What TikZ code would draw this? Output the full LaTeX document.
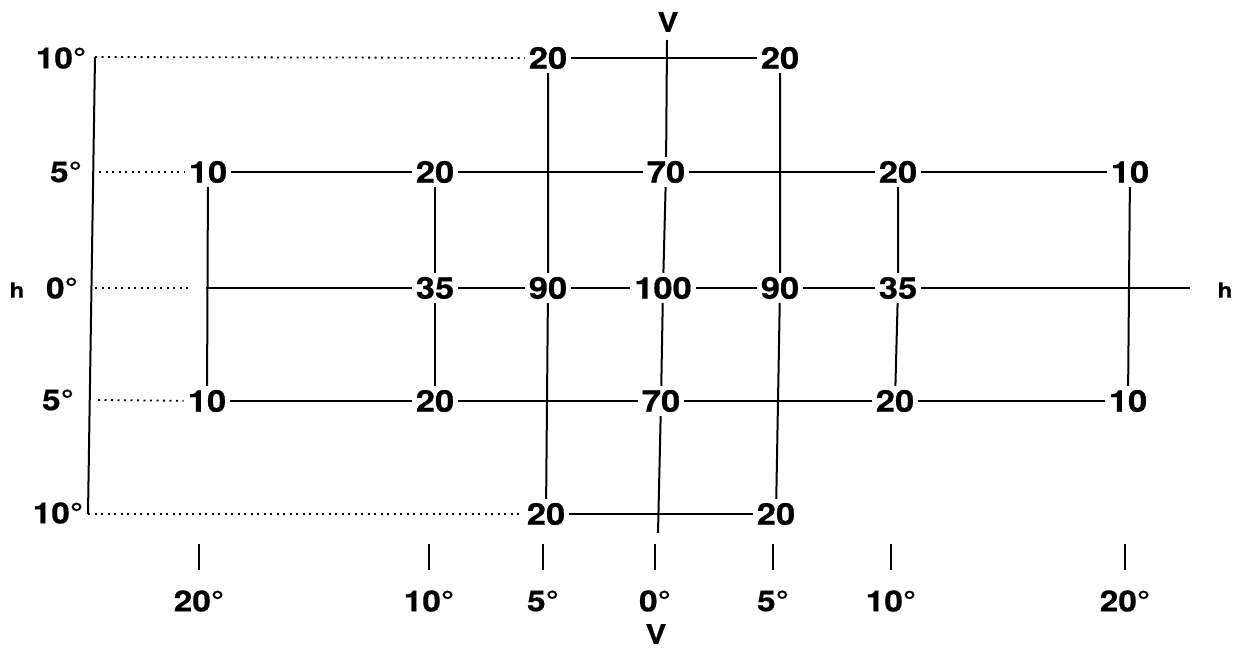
\documentclass[tikz,border=0pt]{standalone}
\usepackage{fontspec}
\setmainfont{TeX Gyre Heros}
\newfontfamily\widefont[FakeStretch=1.15,FakeBold=0.6]{TeX Gyre Heros}
\begin{document}
\begin{tikzpicture}[x=1pt,y=-1pt,
  val/.style={font=\widefont\fontsize{30}{32}\selectfont\bfseries, inner sep=4pt},
  deg/.style={font=\widefont\fontsize{29}{30}\selectfont\bfseries, inner sep=1pt},
  axl/.style={font=\widefont\fontsize{27}{28}\selectfont\bfseries, inner sep=0pt},
  hl/.style={font=\widefont\fontsize{21}{22}\selectfont\bfseries, inner sep=1pt},
  ln/.style={line width=2pt},
  dot/.style={line width=1.8pt, dash pattern=on 2pt off 4.5pt},
  tick/.style={line width=2pt}]
\useasboundingbox (0,0) rectangle (1244,648);
% value nodes
\node[val] (t1) at (548,58) {20};
\node[val] (t2) at (780,58) {20};
\node[val] (a1) at (208,172) {10};
\node[val] (a2) at (435,172) {20};
\node[val] (a3) at (666,172) {70};
\node[val] (a4) at (898,172) {20};
\node[val] (a5) at (1130,172) {10};
\node[val] (b2) at (435,288) {35};
\node[val] (b3) at (548,288) {90};
\node[val] (b4) at (663,288) {100};
\node[val] (b5) at (780,288) {90};
\node[val] (b6) at (898,288) {35};
\node[val] (c1) at (207,401) {10};
\node[val] (c2) at (435,401) {20};
\node[val] (c3) at (661,401) {70};
\node[val] (c4) at (895,401) {20};
\node[val] (c5) at (1128,401) {10};
\node[val] (d1) at (546,514) {20};
\node[val] (d2) at (776,514) {20};
% row labels
\node[deg] (r10t) at (61,58) {10°};
\node[deg] (r5t) at (66,172) {5°};
\node[deg] (r0) at (62,288) {0°};
\node[deg] (r5b) at (58,400) {5°};
\node[deg] (r10b) at (58,513) {10°};
\node[hl] (hL) at (17,290) {h};
\node[hl] (hR) at (1225,290) {h};
\node[axl] (vT) at (668,22) {V};
\node[axl] (vB) at (656,634) {V};
% column labels
\node[deg] (k1) at (199,601) {20°};
\node[deg] (k2) at (429,601) {10°};
\node[deg] (k3) at (543,601) {5°};
\node[deg] (k4) at (655,601) {0°};
\node[deg] (k5) at (773,601) {5°};
\node[deg] (k6) at (891,601) {10°};
\node[deg] (k7) at (1125,601) {20°};
% coordinates
\coordinate (tl) at (95,57);
\coordinate (bl) at (88,514);
\coordinate (s5t) at (99,172);
\coordinate (s0) at (95,288);
\coordinate (s0e) at (190,288);
\coordinate (s5b) at (98,400);
\coordinate (hstart) at (206,288);
\coordinate (hend) at (1190,288);
\coordinate (vtop) at (667,40);
\coordinate (vbot) at (658,533);
% frame and dotted lines
\draw[ln] (tl) -- (bl);
\draw[dot] (tl) -- (t1);
\draw[dot] (bl) -- (d1);
\draw[dot] (s5t) -- (a1);
\draw[dot] (s0) -- (s0e);
\draw[dot] (s5b) -- (c1);
% horizontals
\draw[ln] (t1) -- (t2);
\draw[ln] (a1) -- (a2) -- (a3) -- (a4) -- (a5);
\draw[ln] (hstart) -- (b2) -- (b3) -- (b4) -- (b5) -- (b6) -- (hend);
\draw[ln] (c1) -- (c2) -- (c3) -- (c4) -- (c5);
\draw[ln] (d1) -- (d2);
% verticals
\draw[ln] (a1) -- (c1);
\draw[ln] (a2) -- (b2) -- (c2);
\draw[ln] (t1) -- (b3) -- (d1);
\draw[ln] (vtop) -- (a3) -- (b4) -- (c3) -- (vbot);
\draw[ln] (t2) -- (b5) -- (d2);
\draw[ln] (a4) -- (b6) -- (c4);
\draw[ln] (a5) -- (c5);
% ticks
\foreach \k in {k1,k2,k3,k4,k5,k6,k7}
  \draw[tick] ([yshift=19pt]\k.north) -- ([yshift=45pt]\k.north);
\end{tikzpicture}
\end{document}
